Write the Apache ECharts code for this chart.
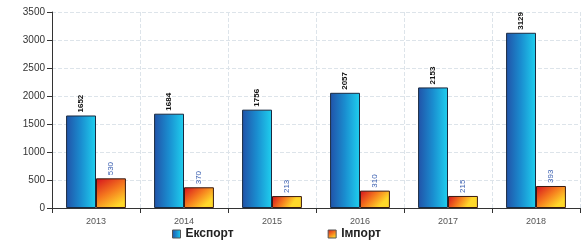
<!DOCTYPE html>
<html>
<head>
<meta charset="utf-8">
<script src="https://cdn.jsdelivr.net/npm/echarts@6/dist/echarts.min.js"></script>
<style>
html, body { margin: 0; padding: 0; background: #fff; }
#main { width: 584px; height: 247px; }
</style>
</head>
<body>
<div id="main"></div>
<script>
var years = ['2013', '2014', '2015', '2016', '2017', '2018'];
var exportData = [1652, 1684, 1756, 2057, 2153, 3129];
var importData = [530, 370, 213, 310, 215, 393];

var blueGrad = new echarts.graphic.LinearGradient(0, 0, 1, 0, [
    { offset: 0, color: '#2152a8' },
    { offset: 0.5, color: '#1a8ed0' },
    { offset: 1, color: '#1fd0ee' }
]);
var redGrad = new echarts.graphic.LinearGradient(0, 0, 0.6, 1, [
    { offset: 0, color: '#d40f1e' },
    { offset: 0.55, color: '#f57a1e' },
    { offset: 1, color: '#ffd82a' }
]);

function barLabel(color, bold) {
    return {
        show: true,
        position: 'top',
        rotate: 90,
        align: 'left',
        verticalAlign: 'middle',
        distance: 3,
        fontSize: 8,
        fontFamily: 'Liberation Sans',
        fontWeight: bold ? 'bold' : 'normal',
        color: color
    };
}

var chart = echarts.init(document.getElementById('main'));
chart.setOption({
    animation: false,
    backgroundColor: '#fff',
    grid: { left: 52, right: 4, top: 12, bottom: 39 },
    legend: {
        bottom: 2,
        left: 167,
        itemWidth: 8,
        itemHeight: 8,
        itemGap: 94,
        icon: 'rect',
        textStyle: { fontSize: 12, fontWeight: 'bold', color: '#222', fontFamily: 'Liberation Sans' },
        data: [
            { name: 'Експорт', itemStyle: { color: blueGrad, borderColor: '#555', borderWidth: 1 } },
            { name: 'Імпорт', itemStyle: { color: redGrad, borderColor: '#555', borderWidth: 1 } }
        ]
    },
    xAxis: {
        type: 'category',
        data: years,
        axisLine: { lineStyle: { color: '#333' } },
        axisTick: { show: true, lineStyle: { color: '#333' } },
        axisLabel: { fontSize: 9, color: '#555', fontFamily: 'Liberation Sans', margin: 9 },
        splitLine: { show: true, lineStyle: { color: '#dde4ea', type: 'dashed' } }
    },
    yAxis: {
        type: 'value',
        min: 0,
        max: 3500,
        interval: 500,
        axisLine: { show: true, lineStyle: { color: '#333' } },
        axisTick: { show: true, lineStyle: { color: '#333' } },
        axisLabel: {
            fontSize: 10, color: '#333', fontFamily: 'Liberation Sans', margin: 7,
            formatter: function (v) { return String(v); }
        },
        splitLine: { lineStyle: { color: '#dde4ea', type: 'dashed' } }
    },
    series: [
        {
            name: 'Експорт',
            type: 'bar',
            data: exportData,
            barGap: '0%',
            barCategoryGap: '32%',
            itemStyle: { color: blueGrad, borderColor: '#1a2a40', borderWidth: 1 },
            label: barLabel('#111', true)
        },
        {
            name: 'Імпорт',
            type: 'bar',
            data: importData,
            itemStyle: { color: redGrad, borderColor: '#3a1a10', borderWidth: 1 },
            label: barLabel('#3a5fb0', false)
        }
    ]
});
</script>
</body>
</html>
